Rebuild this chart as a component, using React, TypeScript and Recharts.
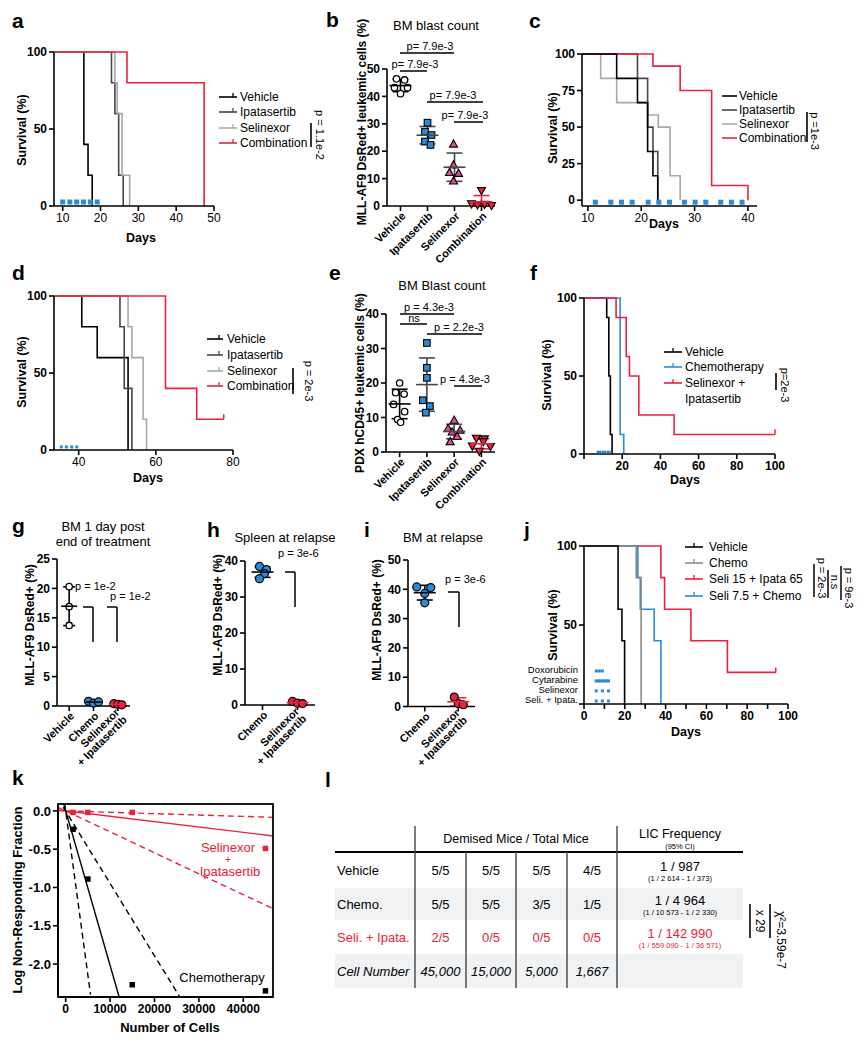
import React from 'react';
import { ComposedChart, Line, Scatter, XAxis, YAxis, ErrorBar } from 'recharts';

const FONT = 'Arial, "Liberation Sans", Helvetica, sans-serif';
const RED = '#e8233a';
const BLUE = '#2b8bd8';
const PINK = '#e04aa2';
const DGRAY = '#474747';
const LGRAY = '#a8a8a8';
const MGRAY = '#8c8c8c';

// ---------------- DATA ----------------
// a: survival (days, %)
const aVehicle = [{ x: 7.7, y: 100 }, { x: 15.6, y: 40 }, { x: 16.7, y: 20 }, { x: 17.8, y: 0 }];
const aIpata = [{ x: 7.7, y: 100 }, { x: 22.9, y: 80 }, { x: 23.8, y: 60 }, { x: 24.8, y: 20 }, { x: 26.0, y: 0 }];
const aSeli = [{ x: 7.7, y: 100 }, { x: 23.8, y: 80 }, { x: 24.4, y: 60 }, { x: 25.7, y: 20 }, { x: 27.7, y: 0 }];
const aCombo = [{ x: 7.7, y: 100 }, { x: 27.0, y: 80 }, { x: 47.4, y: 0 }];
const aDose = [10, 11.9, 13.7, 15.5, 17.3, 19.1];

// b: BM blast count (%)
const bCats = ['Vehicle', 'Ipatasertib', 'Selinexor', 'Combination'];
const bVehicle = [46.4, 46.0, 43.2, 43.2, 41.0];
const bIpata = [30.4, 27.1, 25.9, 23.5, 22.3];
const bSeli = [22.6, 15.0, 12.2, 11.9, 9.1];
const bCombo = [5.6, 0.8, 0.4, 0.6, 0.2];

// c: survival
const cVehicle = [{ x: 8.9, y: 100 }, { x: 15.4, y: 83.3 }, { x: 19.3, y: 66.7 }, { x: 21.2, y: 33.3 }, { x: 22.2, y: 16.7 }, { x: 23.1, y: 0 }];
const cIpata = [{ x: 8.9, y: 100 }, { x: 19.3, y: 83.3 }, { x: 21.2, y: 50 }, { x: 22.2, y: 33.3 }, { x: 23.1, y: 0 }];
const cSeli = [{ x: 8.9, y: 100 }, { x: 12.4, y: 83.3 }, { x: 15.4, y: 66.7 }, { x: 21.2, y: 58.3 }, { x: 23.2, y: 50 }, { x: 25.4, y: 16.7 }, { x: 27.3, y: 0 }];
const cCombo = [{ x: 8.9, y: 100 }, { x: 22.2, y: 91.7 }, { x: 27.3, y: 75 }, { x: 33.2, y: 10 }, { x: 40, y: 0 }];
const cDose = [11.4, 14.3, 16.3, 18.3, 21.3, 23.3, 25.3, 28.1, 30.1, 32.1, 34.9, 36.9, 38.9];

// d: survival
const dVehicle = [{ x: 33.6, y: 100 }, { x: 40.8, y: 80 }, { x: 44.8, y: 60 }, { x: 52.8, y: 0 }];
const dIpata = [{ x: 33.6, y: 100 }, { x: 50.7, y: 80 }, { x: 51.8, y: 40 }, { x: 53.8, y: 0 }];
const dSeli = [{ x: 33.6, y: 100 }, { x: 52.8, y: 80 }, { x: 53.8, y: 60 }, { x: 56.7, y: 20 }, { x: 57.6, y: 0 }];
const dCombo = [{ x: 33.6, y: 100 }, { x: 62.5, y: 40 }, { x: 70.6, y: 20 }, { x: 77.6, y: 20 }];
const dCensor = [{ x: 77.6, y: 20 }];
const dDose = [35.5, 36.8, 38.2, 39.5];

// e: PDX BM blast count (%)
const eVehicle = [20.0, 17.2, 16.8, 13.8, 11.7, 9.4, 8.6];
const eIpata = [31.6, 24.4, 21.5, 15.0, 13.3, 11.4];
const eSeli = [9.2, 6.8, 6.3, 5.8, 4.5, 3.0];
const eCombo = [4.0, 3.8, 3.0, 1.7, 1.6, 0.2];

// f: survival
const fVehicle = [{ x: 0, y: 100 }, { x: 11.9, y: 87.5 }, { x: 13.0, y: 50 }, { x: 13.8, y: 12.5 }, { x: 14.7, y: 0 }];
const fChemo = [{ x: 0, y: 100 }, { x: 18.9, y: 12.5 }, { x: 20.8, y: 0 }];
const fCombo = [{ x: 0, y: 100 }, { x: 16.8, y: 87.5 }, { x: 22.1, y: 62.5 }, { x: 23.8, y: 50 }, { x: 28.7, y: 25 }, { x: 47.2, y: 12.5 }, { x: 100, y: 12.5 }];
const fCensor = [{ x: 100, y: 12.5 }];
const fDose = [7.2, 8.5, 9.9, 11.2, 12.6, 13.9];

// g / h / i
const gCats = [['Vehicle'], ['Chemo'], ['Selinexor', '+ Ipatasertib']];
const gVehicle = [20.3, 16.9, 13.7];
const gChemo = [0.8, 0.5, 0.7];
const gCombo = [0.4, 0.3, 0.2];
const hiCats = [['Chemo'], ['Selinexor', '+ Ipatasertib']];
const hChemo = [38.5, 37.6, 36.5, 35.1];
const hCombo = [1.0, 0.5, 0.4];
const iChemo = [40.8, 40.6, 38.6, 35.4];
const iCombo = [3.2, 1.0, 0.6];

// j: survival
const jVehicle = [{ x: 0, y: 100 }, { x: 16.7, y: 60 }, { x: 18.6, y: 40 }, { x: 19.9, y: 0 }];
const jChemo = [{ x: 0, y: 100 }, { x: 25.6, y: 80 }, { x: 28.0, y: 0 }];
const jSeliChemo = [{ x: 0, y: 100 }, { x: 26.4, y: 80 }, { x: 27.6, y: 60 }, { x: 34.4, y: 40 }, { x: 37.7, y: 0 }];
const jSeliIpata = [{ x: 0, y: 100 }, { x: 37.7, y: 80 }, { x: 39.5, y: 60 }, { x: 52.4, y: 40 }, { x: 70.3, y: 20 }, { x: 94, y: 20 }];
const jCensor = [{ x: 94, y: 20 }];
const jDoseNames = ['Doxorubicin', 'Cytarabine', 'Selinexor', 'Seli. + Ipata.'];
const jDoseDays = [[6, 7.5, 9], [6, 7, 8, 9, 10, 11, 12], [6, 9, 12], [6, 9, 12]];

// k: limiting dilution
const kChemoPts = [{ x: 1667, y: -0.24 }, { x: 5000, y: -0.89 }, { x: 15000, y: -2.27 }, { x: 45000, y: -2.35 }];
const kSeliPts = [{ x: 1667, y: -0.02 }, { x: 5000, y: -0.02 }, { x: 15000, y: -0.02 }, { x: 45000, y: -0.49 }];
const kChemoFit = [{ x: -1730, y: 0.35 }, { x: 12000, y: -2.42 }];
const kChemoLo = [{ x: -1730, y: 0.74 }, { x: 5600, y: -2.4 }];
const kChemoHi = [{ x: -1730, y: 0.16 }, { x: 25600, y: -2.42 }];
const kSeliFit = [{ x: -1730, y: 0.012 }, { x: 46700, y: -0.327 }];
const kSeliHi = [{ x: -1730, y: 0.003 }, { x: 46700, y: -0.084 }];
const kSeliLo = [{ x: -1730, y: 0.047 }, { x: 46700, y: -1.277 }];

// l: table
const lRows = ['Vehicle', 'Chemo.', 'Seli. + Ipata.'];
const lCounts = [['5/5', '5/5', '5/5', '4/5'], ['5/5', '5/5', '3/5', '1/5'], ['2/5', '0/5', '0/5', '0/5']];
const lCells = ['45,000', '15,000', '5,000', '1,667'];
const lFreq = ['1 / 987', '1 / 4 964', '1 / 142 990'];
const lCI = ['(1 / 2 614 - 1 / 373)', '(1 / 10 573 - 1 / 2 330)', '(1 / 559 090 - 1 / 36 571)'];

// ---------------- HELPERS ----------------
const AX = { stroke: '#000', strokeWidth: 1.6 };
const tk = (fs: number, bold: boolean) => ({ fill: '#000', fontSize: fs, fontFamily: FONT, fontWeight: bold ? 700 : 400 });
const mean = (v: number[]) => v.reduce((a, b) => a + b, 0) / v.length;
const sd = (v: number[]) => {
  const m = mean(v);
  return Math.sqrt(v.reduce((a, b) => a + (b - m) * (b - m), 0) / (v.length - 1));
};

function Chart({ box, yw = 50, xh = 30, children }: any) {
  const mt = 12, mr = 12;
  const width = box.r - box.l + yw + mr;
  const height = box.b - box.t + mt + xh;
  return (
    <div style={{ position: 'absolute', left: box.l - yw, top: box.t - mt, width, height }}>
      <ComposedChart width={width} height={height} margin={{ top: mt, right: mr, bottom: 0, left: 0 }}>
        {children}
      </ComposedChart>
    </div>
  );
}

const sqShape = (s: number, fill: string) => (p: any) => (
  <rect x={p.cx - s / 2} y={p.cy - s / 2} width={s} height={s} fill={fill} />
);
const censorShape = (c: string) => (p: any) => (
  <line x1={p.cx} x2={p.cx} y1={p.cy} y2={p.cy - 5} stroke={c} strokeWidth={1.5} />
);

function Surv({ box, xDomain, xTicks, xFmt, xBold = false, yDomain, yTicks, yFmt, series, doses, doseSize = 5, censor }: any) {
  return (
    <Chart box={box}>
      <XAxis type="number" dataKey="x" domain={xDomain} ticks={xTicks} interval={0} height={30}
        axisLine={AX} tickLine={AX} tickSize={5} tick={tk(12, xBold)} tickFormatter={xFmt} />
      <YAxis type="number" dataKey="y" domain={yDomain} ticks={yTicks} interval={0} width={50}
        axisLine={AX} tickLine={AX} tickSize={5} tick={tk(12, true)} tickFormatter={yFmt} />
      {series.map((s: any, i: number) => (
        <Line key={'s' + i} data={s.data} dataKey="y" type="stepAfter" stroke={s.color} strokeWidth={1.6}
          dot={false} isAnimationActive={false} />
      ))}
      {(doses || []).map((d: any, i: number) => (
        <Scatter key={'d' + i} data={d.days.map((x: number) => ({ x, y: d.y }))} dataKey="y"
          isAnimationActive={false} shape={sqShape(doseSize, BLUE)} />
      ))}
      {censor && (
        <Scatter data={censor.pts} dataKey="y" isAnimationActive={false} shape={censorShape(censor.color)} />
      )}
    </Chart>
  );
}

const marker = (kind: string, fill: string, jit: number[]) => (p: any) => {
  const cx = p.cx + (jit[p.payload.i] || 0);
  const cy = p.cy;
  if (kind === 'open') return <circle cx={cx} cy={cy} r={3.2} fill="#fff" stroke="#000" strokeWidth={1.3} />;
  if (kind === 'sq') return <rect x={cx - 3.3} y={cy - 3.3} width={6.6} height={6.6} fill={fill} stroke="#000" strokeWidth={1.1} />;
  if (kind === 'tri') return <path d={`M${cx},${cy - 4.2}L${cx + 4},${cy + 3}L${cx - 4},${cy + 3}Z`} fill={fill} stroke="#000" strokeWidth={1.1} />;
  if (kind === 'inv') return <path d={`M${cx},${cy + 4.2}L${cx + 4},${cy - 3}L${cx - 4},${cy - 3}Z`} fill={fill} stroke="#000" strokeWidth={1.1} />;
  return <circle cx={cx} cy={cy} r={4} fill={fill} stroke="#000" strokeWidth={1.2} />;
};
const meanShape = (c: string, w: number) => (p: any) => (
  <line x1={p.cx - w / 2} x2={p.cx + w / 2} y1={p.cy} y2={p.cy} stroke={c} strokeWidth={1.6} />
);

function RotLabel({ x, y, lines, fs }: any) {
  const n = lines.length;
  return (
    <g transform={`translate(${x + 3},${y + 1}) rotate(-45)`}>
      <text textAnchor="end" fontSize={fs} fontWeight={700} fontFamily={FONT} fill="#000">
        {lines.map((ln: string, i: number) => (
          <tspan key={i} x={0} dy={i === 0 ? `${0.35 - (n - 1) * 0.45}em` : '0.95em'}>{ln}</tspan>
        ))}
      </text>
    </g>
  );
}

function Dots({ box, labels, yDomain, yTicks, groups, meanW = 22, capW = 8, xh = 70, labFs = 11 }: any) {
  const n = labels.length;
  return (
    <Chart box={box} xh={xh}>
      <XAxis type="number" dataKey="x" domain={[-0.5, n - 0.5]} ticks={labels.map((_: any, i: number) => i)}
        interval={0} height={xh} axisLine={AX} tickLine={AX} tickSize={5}
        tick={(p: any) => <RotLabel x={p.x} y={p.y} lines={labels[p.payload.value]} fs={labFs} />} />
      <YAxis type="number" dataKey="y" domain={yDomain} ticks={yTicks} interval={0} width={50}
        axisLine={AX} tickLine={AX} tickSize={5} tick={tk(12, true)} />
      {groups.map((g: any, gi: number) => (
        <Scatter key={'p' + gi} data={g.vals.map((y: number, i: number) => ({ x: gi, y, i }))} dataKey="y"
          isAnimationActive={false} shape={marker(g.kind, g.fill, g.jit)} />
      ))}
      {groups.map((g: any, gi: number) => {
        const m = mean(g.vals);
        const s = sd(g.vals);
        return (
          <Scatter key={'m' + gi} data={[{ x: gi, y: m, e: [Math.min(s, m), s] }]} dataKey="y"
            isAnimationActive={false} shape={meanShape(g.err, meanW)}>
            <ErrorBar dataKey="e" direction="y" width={capW} stroke={g.err} strokeWidth={1.6} />
          </Scatter>
        );
      })}
    </Chart>
  );
}

function KChart() {
  const L = (data: any, c: string, dash?: string) => (
    <Line data={data} dataKey="y" type="linear" stroke={c} strokeWidth={1.4} strokeDasharray={dash}
      dot={false} isAnimationActive={false} />
  );
  return (
    <Chart box={{ l: 58, t: 804, r: 273, b: 997 }} xh={32}>
      <XAxis type="number" dataKey="x" domain={[-1730, 46700]} ticks={[0, 10000, 20000, 30000, 40000]} interval={0}
        allowDataOverflow height={32} axisLine={AX} tickLine={AX} tickSize={5} tick={tk(12, true)} />
      <YAxis type="number" dataKey="y" domain={[-2.43, 0.09]} ticks={[0, -0.5, -1, -1.5, -2]} interval={0}
        allowDataOverflow width={50} axisLine={AX} tickLine={AX} tickSize={5} tick={tk(13, true)}
        tickFormatter={(v: number) => v.toFixed(1)} />
      {L(kSeliHi, RED, '6 4')}
      {L(kSeliLo, RED, '6 4')}
      {L(kSeliFit, RED)}
      {L(kChemoLo, '#000', '6 4')}
      {L(kChemoHi, '#000', '6 4')}
      {L(kChemoFit, '#000')}
      <Scatter data={kSeliPts} dataKey="y" isAnimationActive={false} shape={sqShape(5.5, RED)} />
      <Scatter data={kChemoPts} dataKey="y" isAnimationActive={false} shape={sqShape(5.5, '#000')} />
    </Chart>
  );
}

// ---------------- OVERLAY TEXT ----------------
const Tx = ({ x, y, s = 12, b = false, a = 'start', c = '#000', i = false, children }: any) => (
  <text x={x} y={y} fontSize={s} fontWeight={b ? 700 : 400} textAnchor={a} fill={c}
    fontStyle={i ? 'italic' : 'normal'}>{children}</text>
);
const VTx = ({ x, y, s = 12, b = false, c = '#000', rot = -90, children }: any) => (
  <text x={x} y={y} fontSize={s} fontWeight={b ? 700 : 400} textAnchor="middle" dominantBaseline="central"
    fill={c} transform={`rotate(${rot} ${x} ${y})`}>{children}</text>
);
const Ln = ({ x1, y1, x2, y2, c = '#000', w = 1.4 }: any) => (
  <line x1={x1} y1={y1} x2={x2} y2={y2} stroke={c} strokeWidth={w} />
);
const Letter = ({ x, y, ch }: any) => <Tx x={x} y={y} s={21} b>{ch}</Tx>;

function Legend({ x1, x2, tx, ys, names, colors, tick }: any) {
  return (
    <g>
      {names.map((n: string, i: number) => (
        <g key={i}>
          <Ln x1={x1} x2={x2} y1={ys[i]} y2={ys[i]} c={colors[i]} w={1.6} />
          {tick != null && <Ln x1={tick} x2={tick} y1={ys[i]} y2={ys[i] - 4} c={colors[i]} w={1.3} />}
          <text x={tx} y={ys[i]} dominantBaseline="central" fontSize={12}>{n}</text>
        </g>
      ))}
    </g>
  );
}

const Br = ({ x1, x2, y, label, tx, ty }: any) => (
  <g>
    <Ln x1={x1} x2={x2} y1={y} y2={y} w={1.5} />
    <Tx x={tx} y={ty} s={11} a="middle">{label}</Tx>
  </g>
);

function Table() {
  const X = [335, 415, 466, 516, 567, 617, 743];
  const Y = [852, 888, 920, 954, 988];
  const top = 826;
  const colC = [440.5, 491, 541.5, 592];
  return (
    <g>
      <rect x={X[0]} y={Y[1]} width={X[6] - X[0]} height={Y[2] - Y[1]} fill="#f1f2f4" />
      <rect x={X[0]} y={Y[3]} width={X[6] - X[0]} height={Y[4] - Y[3]} fill="#f1f2f4" />
      <Ln x1={X[0]} x2={X[6]} y1={Y[0]} y2={Y[0]} w={1.8} />
      <Ln x1={X[1]} x2={X[1]} y1={top} y2={Y[4]} c="#444" w={1.4} />
      <Ln x1={X[5]} x2={X[5]} y1={top} y2={Y[4]} c="#444" w={1.4} />
      {[2, 3, 4].map((k) => <Ln key={k} x1={X[k]} x2={X[k]} y1={Y[0]} y2={Y[4]} c="#444" w={1.4} />)}
      <Tx x={516} y={843} s={12.5} a="middle">Demised Mice / Total Mice</Tx>
      <Tx x={680} y={838} s={12.5} a="middle">LIC Frequency</Tx>
      <Tx x={680} y={849} s={7.5} a="middle">(95% CI)</Tx>
      {lRows.map((r, ri) => {
        const cy = (Y[ri] + Y[ri + 1]) / 2;
        const col = ri === 2 ? RED : '#000';
        return (
          <g key={ri}>
            <Tx x={337} y={cy + 4.5} s={13} c={col}>{r}</Tx>
            {lCounts[ri].map((v, ci) => <Tx key={ci} x={colC[ci]} y={cy + 4.5} s={13} a="middle" c={col}>{v}</Tx>)}
            <Tx x={680} y={cy + 0.5} s={13} a="middle" c={col}>{lFreq[ri]}</Tx>
            <Tx x={680} y={cy + 11} s={7.5} a="middle" c={col}>{lCI[ri]}</Tx>
          </g>
        );
      })}
      <Tx x={337} y={(Y[3] + Y[4]) / 2 + 4.5} s={13} i>Cell Number</Tx>
      {lCells.map((v, ci) => <Tx key={ci} x={colC[ci]} y={(Y[3] + Y[4]) / 2 + 4.5} s={13} a="middle" i>{v}</Tx>)}
      <Ln x1={750} x2={750} y1={904} y2={938} w={1.6} />
      <VTx x={760} y={921} s={12} rot={90}>x 29</VTx>
      <Ln x1={770} x2={770} y1={904} y2={938} w={1.6} />
      <VTx x={781} y={940} s={12} rot={90}>χ²=3.59e-7</VTx>
    </g>
  );
}

function Overlay() {
  const survNames = ['Vehicle', 'Ipatasertib', 'Selinexor', 'Combination'];
  const survColors = ['#000', DGRAY, LGRAY, RED];
  return (
    <svg width={865} height={1050} style={{ position: 'absolute', left: 0, top: 0, pointerEvents: 'none' }}
      fontFamily={FONT}>
      {/* a */}
      <Letter x={12} y={28} ch="a" />
      <VTx x={22} y={130} s={12.5} b>Survival (%)</VTx>
      <Tx x={141} y={242} s={12.5} b a="middle">Days</Tx>
      <Legend x1={219} x2={237} tick={233} tx={240} ys={[97, 112, 128, 143]} names={survNames} colors={survColors} />
      <Ln x1={311} x2={311} y1={123} y2={147} w={1.6} />
      <VTx x={320} y={135} s={11} rot={90}>p = 1.1e-2</VTx>

      {/* b */}
      <Letter x={326} y={27} ch="b" />
      <Tx x={436} y={30} s={13} a="middle">BM blast count</Tx>
      <VTx x={362} y={122} s={12} b>MLL-AF9 DsRed+ leukemic cells (%)</VTx>
      <Br x1={400} x2={454} y={53} label="p= 7.9e-3" tx={430} ty={50} />
      <Br x1={400} x2={427} y={71} label="p= 7.9e-3" tx={415} ty={68} />
      <Br x1={427} x2={483} y={102} label="p= 7.9e-3" tx={453} ty={99} />
      <Br x1={454} x2={483} y={122} label="p= 7.9e-3" tx={465} ty={119} />

      {/* c */}
      <Letter x={529} y={28} ch="c" />
      <VTx x={553} y={128} s={12.5} b>Survival (%)</VTx>
      <Tx x={664} y={228} s={12.5} b a="middle">Days</Tx>
      <Legend x1={722} x2={737} tx={739} ys={[96, 110, 124, 138]} names={survNames} colors={survColors} />
      <Ln x1={807} x2={807} y1={112} y2={142} w={1.6} />
      <VTx x={815} y={131} s={11} rot={90}>p =1e-3</VTx>

      {/* d */}
      <Letter x={12} y={280} ch="d" />
      <VTx x={22} y={372} s={12.5} b>Survival (%)</VTx>
      <Tx x={148} y={482} s={12.5} b a="middle">Days</Tx>
      <Legend x1={207} x2={223} tick={219} tx={227} ys={[339, 355, 371, 386]} names={survNames} colors={survColors} />
      <Ln x1={293} x2={293} y1={368} y2={394} w={1.6} />
      <VTx x={309} y={381} s={11} rot={90}>p = 2e-3</VTx>

      {/* e */}
      <Letter x={329} y={280} ch="e" />
      <Tx x={442} y={290} s={13} a="middle">BM Blast count</Tx>
      <VTx x={360} y={383} s={12} b>PDX hCD45+ leukemic cells (%)</VTx>
      <Br x1={400} x2={454} y={314} label="p = 4.3e-3" tx={429} ty={311} />
      <Br x1={400} x2={427} y={324} label="ns" tx={414} ty={322} />
      <Br x1={427} x2={482} y={334} label="p = 2.2e-3" tx={459} ty={331} />
      <Br x1={454} x2={482} y={386} label="p = 4.3e-3" tx={465} ty={383} />

      {/* f */}
      <Letter x={530} y={280} ch="f" />
      <VTx x={547} y={375} s={12.5} b>Survival (%)</VTx>
      <Tx x={685} y={484} s={12.5} b a="middle">Days</Tx>
      <Legend x1={664} x2={682} tick={673} tx={685} ys={[352, 367, 383]}
        names={['Vehicle', 'Chemotherapy', 'Selinexor +']} colors={['#000', BLUE, RED]} />
      <text x={685} y={399} dominantBaseline="central" fontSize={12}>Ipatasertib</text>
      <Ln x1={776} x2={776} y1={373} y2={390} w={1.6} />
      <VTx x={785} y={385} s={11} rot={90}>p=2e-3</VTx>

      {/* g */}
      <Letter x={12} y={533} ch="g" />
      <text x={103} fontSize={13} textAnchor="middle">
        <tspan x={103} y={531}>BM 1 day post</tspan>
        <tspan x={103} y={546}>end of treatment</tspan>
      </text>
      <VTx x={30} y={625} s={12} b>MLL-AF9 DsRed+ (%)</VTx>
      <Tx x={75} y={590} s={11}>p = 1e-2</Tx>
      <Ln x1={83} x2={93} y1={607} y2={607} w={1.5} />
      <Ln x1={93} x2={93} y1={607} y2={642} w={1.5} />
      <Tx x={110} y={600} s={11}>p = 1e-2</Tx>
      <Ln x1={107} x2={117} y1={607} y2={607} w={1.5} />
      <Ln x1={117} x2={117} y1={607} y2={642} w={1.5} />

      {/* h */}
      <Letter x={207} y={537} ch="h" />
      <Tx x={285} y={542} s={13} a="middle">Spleen at relapse</Tx>
      <VTx x={218} y={615} s={12} b>MLL-AF9 DsRed+ (%)</VTx>
      <Tx x={278} y={557} s={11}>p  = 3e-6</Tx>
      <Ln x1={285} x2={295} y1={572} y2={572} w={1.5} />
      <Ln x1={295} x2={295} y1={572} y2={607} w={1.5} />

      {/* i */}
      <Letter x={364} y={537} ch="i" />
      <Tx x={443} y={542} s={13} a="middle">BM at relapse</Tx>
      <VTx x={377} y={620} s={12} b>MLL-AF9 DsRed+ (%)</VTx>
      <Tx x={445} y={583} s={11}>p  = 3e-6</Tx>
      <Ln x1={448} x2={459} y1={592} y2={592} w={1.5} />
      <Ln x1={459} x2={459} y1={592} y2={627} w={1.5} />

      {/* j */}
      <Letter x={524} y={537} ch="j" />
      <VTx x={553} y={625} s={12.5} b>Survival (%)</VTx>
      <Tx x={686} y={736} s={12.5} b a="middle">Days</Tx>
      <Legend x1={685} x2={703} tick={694} tx={709} ys={[547, 563, 579, 596]}
        names={['Vehicle', 'Chemo', 'Seli 15 + Ipata 65', 'Seli 7.5 + Chemo']} colors={['#000', MGRAY, RED, BLUE]} />
      <Ln x1={814} x2={814} y1={564} y2={597} w={1.5} />
      <VTx x={822} y={578} s={11} rot={90}>p = 2e-3</VTx>
      <Ln x1={828} x2={828} y1={570} y2={598} w={1.5} />
      <VTx x={835} y={582} s={11} rot={90}>n.s</VTx>
      <Ln x1={841} x2={841} y1={566} y2={600} w={1.5} />
      <VTx x={849} y={588} s={11} rot={90}>p = 9e-3</VTx>
      <text fontSize={9.5} textAnchor="end">
        {jDoseNames.map((n, i) => (
          <tspan key={i} x={578} y={[673, 683, 693, 703][i]}>{n}</tspan>
        ))}
      </text>

      {/* k */}
      <Letter x={12} y={785} ch="k" />
      <rect x={58} y={804} width={215} height={193} fill="none" stroke="#000" strokeWidth={1.8} />
      <VTx x={17} y={900} s={13} b>Log Non-Responding Fraction</VTx>
      <Tx x={170} y={1032} s={13} b a="middle">Number of Cells</Tx>
      <Tx x={228} y={852} s={13} a="middle" c={RED}>Selinexor</Tx>
      <Tx x={228} y={862.5} s={10} a="middle" c={RED}>+</Tx>
      <Tx x={230} y={876} s={13} a="middle" c={RED}>Ipatasertib</Tx>
      <Tx x={222} y={982} s={13} a="middle">Chemotherapy</Tx>

      {/* l */}
      <Letter x={325} y={787} ch="l" />
      <Table />
    </svg>
  );
}

// ---------------- APP ----------------
export default function App() {
  const open = (vals: number[], jit: number[]) => ({ vals, kind: 'open', fill: '#fff', err: '#000', jit });
  return (
    <div style={{ position: 'absolute', left: 0, top: 0, width: 865, height: 1050, background: '#fff', fontFamily: FONT, overflow: 'hidden' }}>
      {/* a */}
      <Surv box={{ l: 54, t: 52, r: 214, b: 206 }} xDomain={[7.7, 50]} xTicks={[10, 20, 30, 40, 50]}
        yDomain={[0, 100]} yTicks={[0, 50, 100]}
        series={[{ data: aVehicle, color: '#000' }, { data: aIpata, color: DGRAY }, { data: aSeli, color: LGRAY }, { data: aCombo, color: RED }]}
        doses={[{ days: aDose, y: 2.6 }]} />
      {/* b */}
      <Dots box={{ l: 387, t: 69, r: 495, b: 206 }} labels={bCats.map((c) => [c])} yDomain={[0, 50]} yTicks={[0, 10, 20, 30, 40, 50]}
        groups={[
          open(bVehicle, [-4, 4, -6, 7, 0]),
          { vals: bIpata, kind: 'sq', fill: BLUE, err: DGRAY, jit: [0, -2.5, 4, -2.5, 3] },
          { vals: bSeli, kind: 'tri', fill: PINK, err: DGRAY, jit: [-1, -1, -5, 4, -1] },
          { vals: bCombo, kind: 'inv', fill: RED, err: RED, jit: [0, -10, -4, 3, 10] },
        ]} />
      {/* c */}
      <Surv box={{ l: 582, t: 54, r: 757, b: 206 }} xDomain={[8.9, 41.7]} xTicks={[10, 20, 30, 40]}
        yDomain={[-4, 100]} yTicks={[0, 25, 50, 75, 100]}
        series={[{ data: cSeli, color: LGRAY }, { data: cIpata, color: DGRAY }, { data: cCombo, color: RED }, { data: cVehicle, color: '#000' }]}
        doses={[{ days: cDose, y: -1.4 }]} />
      {/* d */}
      <Surv box={{ l: 54, t: 296, r: 233, b: 450 }} xDomain={[33.6, 80]} xTicks={[40, 60, 80]}
        yDomain={[0, 100]} yTicks={[0, 50, 100]}
        series={[{ data: dVehicle, color: '#000' }, { data: dIpata, color: DGRAY }, { data: dSeli, color: LGRAY }, { data: dCombo, color: RED }]}
        doses={[{ days: dDose, y: 2 }]} doseSize={3} censor={{ pts: dCensor, color: RED }} />
      {/* e */}
      <Dots box={{ l: 386, t: 314, r: 495, b: 452 }} labels={bCats.map((c) => [c])} yDomain={[0, 40]} yTicks={[0, 10, 20, 30, 40]}
        groups={[
          open(eVehicle, [0, -4, 4.5, -6, 5, -2, 1]),
          { vals: eIpata, kind: 'sq', fill: BLUE, err: DGRAY, jit: [0, 0, 0, -4, 3, -1] },
          { vals: eSeli, kind: 'tri', fill: PINK, err: DGRAY, jit: [0, -6, 6, -2, 3, -4] },
          { vals: eCombo, kind: 'inv', fill: RED, err: RED, jit: [-5, 3, 2, -9, 9, -2] },
        ]} />
      {/* f */}
      <Surv box={{ l: 584, t: 298, r: 775, b: 454 }} xDomain={[0, 100]} xTicks={[0, 20, 40, 60, 80, 100]} xBold
        xFmt={(v: number) => (v === 0 ? '' : String(v))}
        yDomain={[0, 100]} yTicks={[0, 50, 100]}
        series={[{ data: fVehicle, color: '#000' }, { data: fChemo, color: BLUE }, { data: fCombo, color: RED }]}
        doses={[{ days: fDose, y: 1.3 }]} doseSize={2.5} censor={{ pts: fCensor, color: RED }} />
      {/* g */}
      <Dots box={{ l: 57, t: 559, r: 130, b: 706 }} labels={gCats} yDomain={[0, 25]} yTicks={[0, 5, 10, 15, 20, 25]}
        meanW={16} capW={6}
        groups={[
          open(gVehicle, [0, 0, 0]),
          { vals: gChemo, kind: 'dot', fill: BLUE, err: '#000', jit: [-5, 0, 5] },
          { vals: gCombo, kind: 'dot', fill: RED, err: RED, jit: [-4, 0, 4] },
        ]} />
      {/* h */}
      <Dots box={{ l: 245, t: 560.7, r: 315, b: 704.7 }} labels={hiCats} yDomain={[0, 40]} yTicks={[0, 10, 20, 30, 40]}
        meanW={22} capW={8}
        groups={[
          { vals: hChemo, kind: 'dot', fill: BLUE, err: '#000', jit: [-3, 4, 2, -3] },
          { vals: hCombo, kind: 'dot', fill: RED, err: RED, jit: [-5, 0, 5] },
        ]} />
      {/* i */}
      <Dots box={{ l: 408, t: 560, r: 475, b: 706.5 }} labels={hiCats} yDomain={[0, 50]} yTicks={[0, 10, 20, 30, 40, 50]}
        meanW={22} capW={8}
        groups={[
          { vals: iChemo, kind: 'dot', fill: BLUE, err: '#000', jit: [-8, 6, 0, 0] },
          { vals: iCombo, kind: 'dot', fill: RED, err: RED, jit: [-4, 0, 5] },
        ]} />
      {/* j */}
      <Surv box={{ l: 584, t: 546, r: 788, b: 704 }} xDomain={[0, 100]} xTicks={[0, 10, 20, 30, 40, 50, 60, 70, 80, 90, 100]} xBold
        xFmt={(v: number) => (v % 20 === 0 ? String(v) : '')}
        yDomain={[0, 100]} yTicks={[0, 50, 100]} yFmt={(v: number) => (v === 0 ? '' : String(v))}
        series={[{ data: jSeliIpata, color: RED }, { data: jSeliChemo, color: BLUE }, { data: jChemo, color: MGRAY }, { data: jVehicle, color: '#000' }]}
        doses={jDoseDays.map((days, i) => ({ days, y: [19.6, 13.3, 7.0, 0.6][i] + 1.3 }))} doseSize={3}
        censor={{ pts: jCensor, color: RED }} />
      {/* k */}
      <KChart />
      <Overlay />
    </div>
  );
}
